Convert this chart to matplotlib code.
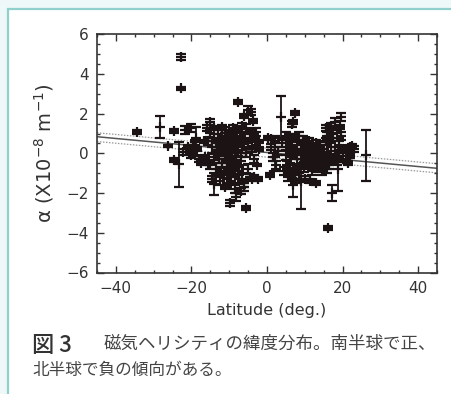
import matplotlib
matplotlib.use("Agg")
import matplotlib.pyplot as plt
from matplotlib.patches import Rectangle
from matplotlib.ticker import MultipleLocator

# ---- data (latitude [deg], alpha [1e-8 m^-1], error) ----
lat_south = [-34.4, -28.3, -26.3, -24.7, -24.5, -23.2, -22.7, -22.7, -22.3, -21.8,
             -21.0, -20.5, -20.1, -20.0, -19.5, -19.5, -19.0, -18.7, -18.5, -18.0,
             -17.6, -17.4, -16.8, -16.5, -16.0, -15.5, -15.5, -15.2, -15.0, -15.0,
             -14.5, -14.5, -14.0, -14.0, -14.0, -13.9, -13.5, -13.5, -13.0, -13.0,
             -12.5, -12.5, -12.0, -12.0, -12.0, -11.5, -11.5, -11.0, -11.0, -11.0,
             -10.5, -10.5, -10.0, -10.0, -10.0, -9.9, -9.5, -9.5, -9.5, -9.0,
             -9.0, -9.0, -8.5, -8.5, -8.5, -8.1, -8.0, -8.0, -7.7, -7.5,
             -7.5, -7.0, -7.0, -7.0, -6.5, -6.5, -6.5, -6.0, -6.0, -6.0,
             -6.0, -5.5, -5.5, -5.5, -5.0, -5.0, -5.0, -4.5, -4.5, -4.2,
             -4.0, -4.0, -3.7, -3.5, -3.5, -3.5, -3.0, -3.0, -2.6, -2.5,
             -2.0, -2.0, -13.2, -12.8, -11.8, -11.2, -10.8, -10.2, -9.7, -9.2,
             -8.8, -8.2, -7.8, -7.2, -12.2, -10.6, -9.4, -8.6, -11.4, -7.4]
alpha_south = [1.09, 1.35, 0.39, -0.34, 1.12, -0.55, 4.87, 3.27, 0.08, 1.20,
               0.30, 0.10, 1.30, -0.10, 0.30, -0.05, 0.55, 0.80, 0.20, -0.30,
               -0.40, -0.50, 0.60, -0.20, 1.30, 0.60, -0.50, 1.60, 1.05, -0.60,
               0.30, -1.30, 0.80, -0.20, 1.30, -1.55, 0.50, -0.80, 1.00, 0.00,
               -1.40, 0.40, -0.50, 0.90, 1.35, 0.20, -1.00, 1.20, -0.30, -1.70,
               0.60, -1.50, 0.00, -0.80, 1.00, -2.52, 0.40, -1.20, -1.00, -0.40,
               0.80, 1.30, 0.10, -1.80, -1.20, -2.20, 1.20, -0.70, 2.60, 0.50,
               -1.30, -0.20, 1.10, -1.90, 0.30, -1.00, 1.40, 0.80, -1.50, -1.70,
               1.90, 0.00, 1.30, -2.77, -0.80, 0.50, 2.20, -1.20, 1.00, 2.10,
               0.20, -1.30, 1.65, 0.80, -0.30, -1.20, 1.10, 0.40, -0.60, -1.30,
               0.60, 0.20, 0.30, -0.30, 0.10, 0.50, -0.10, 0.30, -0.50, 0.00,
               0.40, -0.20, 0.10, 0.60, -0.90, -0.40, 0.90, -0.60, 0.70, -0.90]
err_south = [0.10, 0.55, 0.05, 0.10, 0.10, 1.13, 0.15, 0.10, 0.15, 0.20,
             0.10, 0.10, 0.20, 0.15, 0.10, 0.10, 0.15, 0.55, 0.10, 0.15,
             0.10, 0.10, 0.10, 0.10, 0.15, 0.20, 0.10, 0.15, 0.20, 0.20,
             0.30, 0.15, 0.20, 0.15, 0.10, 0.55, 0.20, 0.30, 0.20, 0.15,
             0.20, 0.25, 0.20, 0.30, 0.10, 0.20, 0.25, 0.15, 0.20, 0.10,
             0.30, 0.20, 0.25, 0.30, 0.20, 0.15, 0.20, 0.20, 0.10, 0.25,
             0.20, 0.15, 0.30, 0.20, 0.30, 0.20, 0.15, 0.20, 0.10, 0.20,
             0.25, 0.20, 0.20, 0.15, 0.15, 0.40, 0.15, 0.20, 0.20, 0.20,
             0.10, 0.20, 0.20, 0.10, 0.25, 0.20, 0.20, 0.15, 0.20, 0.15,
             0.15, 0.10, 0.10, 0.20, 0.20, 0.10, 0.20, 0.15, 0.05, 0.10,
             0.10, 0.10, 0.20, 0.20, 0.25, 0.20, 0.20, 0.20, 0.25, 0.20,
             0.20, 0.20, 0.25, 0.20, 0.20, 0.30, 0.20, 0.25, 0.20, 0.20]

lat_north = [0.3, 0.7, 1.0, 1.1, 1.5, 2.0, 2.2, 2.5, 3.0, 3.8,
             4.0, 4.5, 5.0, 5.0, 5.5, 5.5, 5.8, 6.0, 6.0, 6.5,
             6.5, 6.9, 7.0, 7.0, 7.0, 7.3, 7.5, 7.5, 8.0, 8.0,
             8.5, 8.5, 9.0, 9.0, 9.1, 9.5, 10.0, 10.0, 10.5, 11.0,
             11.0, 11.5, 11.5, 12.0, 12.0, 12.5, 13.0, 13.0, 13.0, 13.5,
             13.5, 14.0, 14.0, 14.5, 14.5, 15.0, 15.0, 15.5, 15.5, 16.0,
             16.0, 16.2, 16.5, 16.5, 17.0, 17.0, 17.3, 17.5, 17.5, 18.0,
             18.0, 18.5, 18.5, 18.8, 19.0, 19.0, 19.3, 19.5, 19.7, 20.0,
             20.5, 21.0, 21.5, 21.9, 22.0, 22.4, 23.0, 26.3, 5.2, 6.2,
             7.8, 9.8, 10.8, 11.8, 12.8, 13.8, 14.8, 15.8, 16.8, 10.2,
             12.2, 14.2, 8.2, 6.8]
alpha_north = [0.80, -1.10, 0.30, 0.75, -0.20, 0.60, -0.20, -0.60, 0.10, 1.85,
               0.50, -0.90, -0.10, 0.90, -1.20, 0.30, 0.90, -0.50, 0.70, -1.00,
               1.50, -1.60, 0.10, -0.80, 1.60, 2.05, 0.80, -1.30, -0.30, 0.40,
               -1.00, 0.90, -0.50, 0.20, -1.40, 0.70, -0.20, -1.30, 0.30, -0.60,
               0.60, -0.10, -1.40, -0.90, 0.20, -0.40, 0.50, -0.20, -1.50, -0.70,
               0.10, -0.30, 0.40, -0.10, -0.90, 0.20, -0.50, 0.60, 1.30, -0.20,
               0.90, -3.75, -0.60, 1.10, 0.30, 1.40, -2.00, -0.30, 0.80, 1.60,
               0.10, -0.40, 1.20, -0.80, 0.60, 0.00, 1.35, 0.90, 1.85, -0.30,
               0.20, 0.10, -0.50, -0.15, 0.30, 0.35, 0.20, -0.10, -0.60, 0.20,
               -0.10, -0.70, -0.30, 0.00, -0.60, -0.10, -0.40, -0.80, -0.30, 0.10,
               -0.20, -0.60, -0.80, -1.10]
err_north = [0.10, 0.10, 0.15, 0.10, 0.20, 0.30, 0.70, 0.20, 0.20, 1.05,
             0.20, 0.20, 0.25, 0.20, 0.20, 0.20, 0.10, 0.30, 0.15, 0.25,
             0.15, 0.60, 0.20, 0.20, 0.10, 0.10, 0.20, 0.20, 0.25, 0.20,
             0.30, 0.20, 0.20, 0.20, 1.38, 0.20, 0.20, 0.15, 0.20, 0.20,
             0.20, 0.25, 0.10, 0.20, 0.20, 0.30, 0.20, 0.20, 0.10, 0.25,
             0.20, 0.20, 0.15, 0.30, 0.20, 0.20, 0.20, 0.20, 0.15, 0.25,
             0.20, 0.10, 0.20, 0.20, 0.20, 0.15, 0.40, 0.20, 0.20, 0.20,
             0.20, 0.20, 0.15, 1.10, 0.20, 0.15, 0.10, 0.20, 0.20, 0.15,
             0.10, 0.10, 0.10, 0.10, 0.10, 0.10, 0.15, 1.30, 0.20, 0.20,
             0.20, 0.25, 0.20, 0.20, 0.25, 0.20, 0.20, 0.20, 0.25, 0.20,
             0.20, 0.20, 0.20, 0.20]

# linear fit and its confidence limits (values at x = -45 and x = 45)
fit_x = [-45, 45]
fit_mid = [0.84, -0.75]
fit_upper = [1.04, -0.52]
fit_lower = [0.60, -0.98]

xticks = [-40, -20, 0, 20, 40]
yticks = [-6, -4, -2, 0, 2, 4, 6]

caption_head = "図 3"
caption_line1 = "磁気ヘリシティの緯度分布。南半球で正、"
caption_line2 = "北半球で負の傾向がある。"

# ---- figure ----
W, H = 451, 394
fig = plt.figure(figsize=(W / 100, H / 100), dpi=100, facecolor="#eef8f8")
panel = Rectangle((8 / W, -0.1), 1.2, 1.1 - 9 / H, transform=fig.transFigure,
                  facecolor="white", edgecolor="#8fd0cc", linewidth=1.6, zorder=-5)
fig.add_artist(panel)

ax = fig.add_axes([97 / W, 1 - 272.5 / H, 340 / W, 238.2 / H])
ax.set_zorder(2)
ax.set_facecolor("white")

ink = "#1c1414"
ax.plot(fit_x, fit_upper, color="#9a9a9a", lw=0.9, ls=(0, (1.2, 1.2)), zorder=1)
ax.plot(fit_x, fit_lower, color="#9a9a9a", lw=0.9, ls=(0, (1.2, 1.2)), zorder=1)
ax.plot(fit_x, fit_mid, color="#555555", lw=1.1, zorder=1)

for lx, ay, ee in ((lat_south, alpha_south, err_south), (lat_north, alpha_north, err_north)):
    ax.errorbar(lx, ay, yerr=ee, fmt="+", color=ink, ecolor=ink, markersize=7,
                markeredgewidth=1.6, elinewidth=1.3, capsize=3.5, capthick=1.3, zorder=3)

ax.set_xlim(-45, 45)
ax.set_ylim(-6, 6)
ax.set_xticks(xticks)
ax.set_yticks(yticks)
ax.xaxis.set_minor_locator(MultipleLocator(5))
ax.yaxis.set_minor_locator(MultipleLocator(0.5))
ax.tick_params(which="both", direction="in", top=True, right=True, color="#333333", width=1.0)
ax.tick_params(which="major", length=5, labelsize=11, pad=6, labelcolor="#333333")
ax.tick_params(which="minor", length=2.5)
for s in ax.spines.values():
    s.set_linewidth(1.2)
    s.set_color("#333333")

ax.set_xlabel("Latitude (deg.)", fontsize=11.5, color="#333333", labelpad=5)
ax.set_ylabel("α (X10$^{-8}$ m$^{-1}$)", fontsize=14, color="#333333", labelpad=7)

cjk = ["Noto Sans CJK JP", "DejaVu Sans"]
fig.text(32 / W, 1 - 352 / H, caption_head, fontsize=16, family=cjk, color="#333333",
         ha="left", va="baseline", fontweight="medium")
fig.text(104 / W, 1 - 344 / H, caption_line1, fontsize=12.6, family=cjk, color="#444444",
         ha="left", va="center")
fig.text(32 / W, 1 - 370 / H, caption_line2, fontsize=12, family=cjk, color="#444444",
         ha="left", va="center")

fig.savefig("out.png", dpi=100, facecolor=fig.get_facecolor())
